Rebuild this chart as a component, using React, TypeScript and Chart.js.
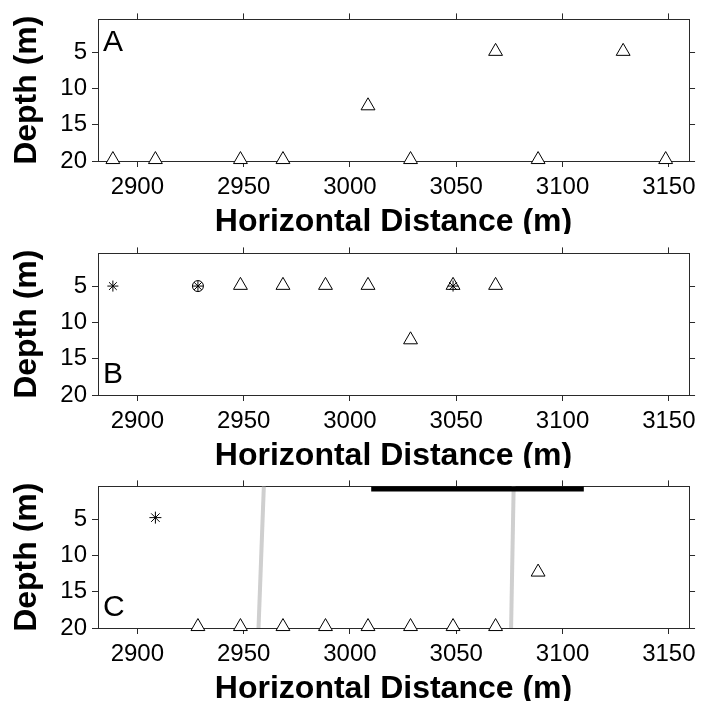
import React, { useEffect, useRef } from "react";
import { Chart, registerables } from "chart.js";

Chart.register(...registerables);

// ---- data ----
const X_TICKS = [2900, 2950, 3000, 3050, 3100, 3150];
const Y_TICKS = [5, 10, 15, 20];
const X_MIN = 2881.5;
const X_MAX = 3159.5;
const Y_MIN = 0.5;
const Y_MAX = 20;

// Panel A
const A_TRI_X = [2888.5, 2908.5, 2948.5, 2968.5, 3008.5, 3028.5, 3068.5, 3088.5, 3128.5, 3148.5];
const A_TRI_Y = [19.8, 19.8, 19.8, 19.8, 12.4, 19.8, 4.9, 19.8, 4.9, 19.8];

// Panel B
const B_TRI_X = [2948.5, 2968.5, 2988.5, 3008.5, 3028.5, 3048.5, 3068.5];
const B_TRI_Y = [4.9, 4.9, 4.9, 4.9, 12.4, 4.9, 4.9];
const B_STAR_X = [2888.5, 2928.5, 3048.5];
const B_STAR_Y = [5, 5, 5];
const B_CIRCLE_X = [2928.5];
const B_CIRCLE_Y = [5];

// Panel C
const C_TRI_X = [2928.5, 2948.5, 2968.5, 2988.5, 3008.5, 3028.5, 3048.5, 3068.5, 3088.5];
const C_TRI_Y = [19.8, 19.8, 19.8, 19.8, 19.8, 19.8, 19.8, 19.8, 12.3];
const C_STAR_X = [2908.5];
const C_STAR_Y = [4.8];
const C_GRAY1_X = [2959.5, 2957];
const C_GRAY1_Y = [0.5, 20];
const C_GRAY2_X = [3077, 3075.8];
const C_GRAY2_Y = [0.5, 20];
const C_BAR_X = [3010, 3110];
const C_BAR_Y = [0.5, 0.5];

const FONT = "'Liberation Sans', Arial, Helvetica, sans-serif";
const AXIS_COLOR = "#2a2a2a";
const TICK_LEN = 6;

const pts = (xs: number[], ys: number[]) => xs.map((x, i) => ({ x, y: ys[i] }));

const tri = (xs: number[], ys: number[]) => ({
  data: pts(xs, ys),
  pointStyle: "triangle",
  pointRadius: 8,
  pointBorderWidth: 1,
  pointBorderColor: "#000",
  pointBackgroundColor: "#fff",
  showLine: false,
  clip: false as any,
});
const star = (xs: number[], ys: number[], r: number) => ({
  data: pts(xs, ys),
  pointStyle: "star",
  pointRadius: r,
  pointBorderWidth: 1,
  pointBorderColor: "#000",
  pointBackgroundColor: "#000",
  showLine: false,
  clip: false as any,
});
const circ = (xs: number[], ys: number[], r: number) => ({
  data: pts(xs, ys),
  pointStyle: "circle",
  pointRadius: r,
  pointBorderWidth: 1,
  pointBorderColor: "#000",
  pointBackgroundColor: "rgba(0,0,0,0)",
  showLine: false,
  clip: false as any,
});
const seg = (xs: number[], ys: number[], color: string, w: number) => ({
  data: pts(xs, ys),
  showLine: true,
  borderColor: color,
  borderWidth: w,
  pointRadius: 0,
  clip: 0 as any,
});

const setTicks = (vals: number[]) => (scale: any) => {
  scale.ticks = vals.map((v) => ({ value: v }));
};

function makeOptions(letter: string, letterPos: "top" | "bottom") {
  const letterPlugin = {
    id: "panelLetter" + letter,
    afterDraw(chart: any) {
      const { ctx, chartArea } = chart;
      ctx.save();
      ctx.font = `30px ${FONT}`;
      ctx.fillStyle = "#000";
      ctx.textAlign = "left";
      ctx.textBaseline = "alphabetic";
      const y = letterPos === "top" ? chartArea.top + 32 : chartArea.bottom - 12;
      ctx.fillText(letter, chartArea.left + 5, y);
      ctx.restore();
    },
  };
  const options: any = {
    animation: false,
    responsive: false,
    devicePixelRatio: 1,
    layout: { padding: { top: 7, right: 6, bottom: 0, left: 0 } },
    plugins: { legend: { display: false }, tooltip: { enabled: false } },
    scales: {
      x: {
        type: "linear",
        position: "bottom",
        min: X_MIN,
        max: X_MAX,
        afterBuildTicks: setTicks(X_TICKS),
        afterFit: (s: any) => {
          s.height = 73;
        },
        border: { display: true, color: AXIS_COLOR, width: 1 },
        grid: { drawOnChartArea: false, drawTicks: true, tickLength: TICK_LEN, color: AXIS_COLOR },
        ticks: {
          color: "#000",
          font: { family: FONT, size: 24 },
          padding: 6,
          maxRotation: 0,
          autoSkip: false,
          callback: (v: any) => String(v),
        },
        title: {
          display: true,
          text: "Horizontal Distance (m)",
          color: "#000",
          font: { family: FONT, size: 32, weight: "bold", lineHeight: 0.7 },
          padding: { top: 0, bottom: 0.8 },
        },
      },
      x2: {
        type: "linear",
        position: "top",
        min: X_MIN,
        max: X_MAX,
        afterBuildTicks: setTicks(X_TICKS),
        afterFit: (s: any) => {
          s.height = TICK_LEN;
        },
        border: { display: true, color: AXIS_COLOR, width: 1 },
        grid: { drawOnChartArea: false, drawTicks: true, tickLength: TICK_LEN, color: AXIS_COLOR },
        ticks: { display: false },
      },
      y: {
        type: "linear",
        position: "left",
        reverse: true,
        min: Y_MIN,
        max: Y_MAX,
        afterBuildTicks: setTicks(Y_TICKS),
        afterFit: (s: any) => {
          s.width = 98;
        },
        border: { display: true, color: AXIS_COLOR, width: 1 },
        grid: { drawOnChartArea: false, drawTicks: true, tickLength: TICK_LEN, color: AXIS_COLOR },
        ticks: {
          color: "#000",
          font: { family: FONT, size: 24 },
          padding: 5,
          autoSkip: false,
          callback: (v: any) => String(v),
        },
        title: {
          display: true,
          text: "Depth (m)",
          color: "#000",
          font: { family: FONT, size: 32, weight: "bold", lineHeight: 1.2 },
          padding: { top: 8, bottom: 0 },
        },
      },
      y2: {
        type: "linear",
        position: "right",
        reverse: true,
        min: Y_MIN,
        max: Y_MAX,
        afterBuildTicks: setTicks(Y_TICKS),
        afterFit: (s: any) => {
          s.width = TICK_LEN;
        },
        border: { display: true, color: AXIS_COLOR, width: 1 },
        grid: { drawOnChartArea: false, drawTicks: true, tickLength: TICK_LEN, color: AXIS_COLOR },
        ticks: { display: false },
      },
    },
  };
  return { options, plugins: [letterPlugin] };
}

function Panel(props: { datasets: any[]; letter: string; letterPos: "top" | "bottom"; top: number }) {
  const ref = useRef<HTMLCanvasElement | null>(null);
  useEffect(() => {
    if (!ref.current) return;
    const { options, plugins } = makeOptions(props.letter, props.letterPos);
    const chart = new Chart(ref.current, {
      type: "scatter",
      data: { datasets: props.datasets },
      options,
      plugins,
    } as any);
    return () => chart.destroy();
  }, []);
  return (
    <canvas
      ref={ref}
      width={702}
      height={234}
      style={{ position: "absolute", left: 0, top: props.top, width: 702, height: 234 }}
    />
  );
}

export default function App() {
  const dsA = [tri(A_TRI_X, A_TRI_Y)];
  const dsB = [
    star(B_STAR_X, B_STAR_Y, 5.5),
    circ(B_CIRCLE_X, B_CIRCLE_Y, 5.5),
    tri(B_TRI_X, B_TRI_Y),
  ];
  const dsC = [
    star(C_STAR_X, C_STAR_Y, 6),
    tri(C_TRI_X, C_TRI_Y),
    seg(C_BAR_X, C_BAR_Y, "#000", 10),
    seg(C_GRAY1_X, C_GRAY1_Y, "#cfcfcf", 4),
    seg(C_GRAY2_X, C_GRAY2_Y, "#cfcfcf", 4),
  ];
  return (
    <div style={{ position: "fixed", left: 0, top: 0, width: 702, height: 706, background: "#fff" }}>
      <Panel datasets={dsA} letter="A" letterPos="top" top={0} />
      <Panel datasets={dsB} letter="B" letterPos="bottom" top={234} />
      <Panel datasets={dsC} letter="C" letterPos="bottom" top={467} />
    </div>
  );
}
